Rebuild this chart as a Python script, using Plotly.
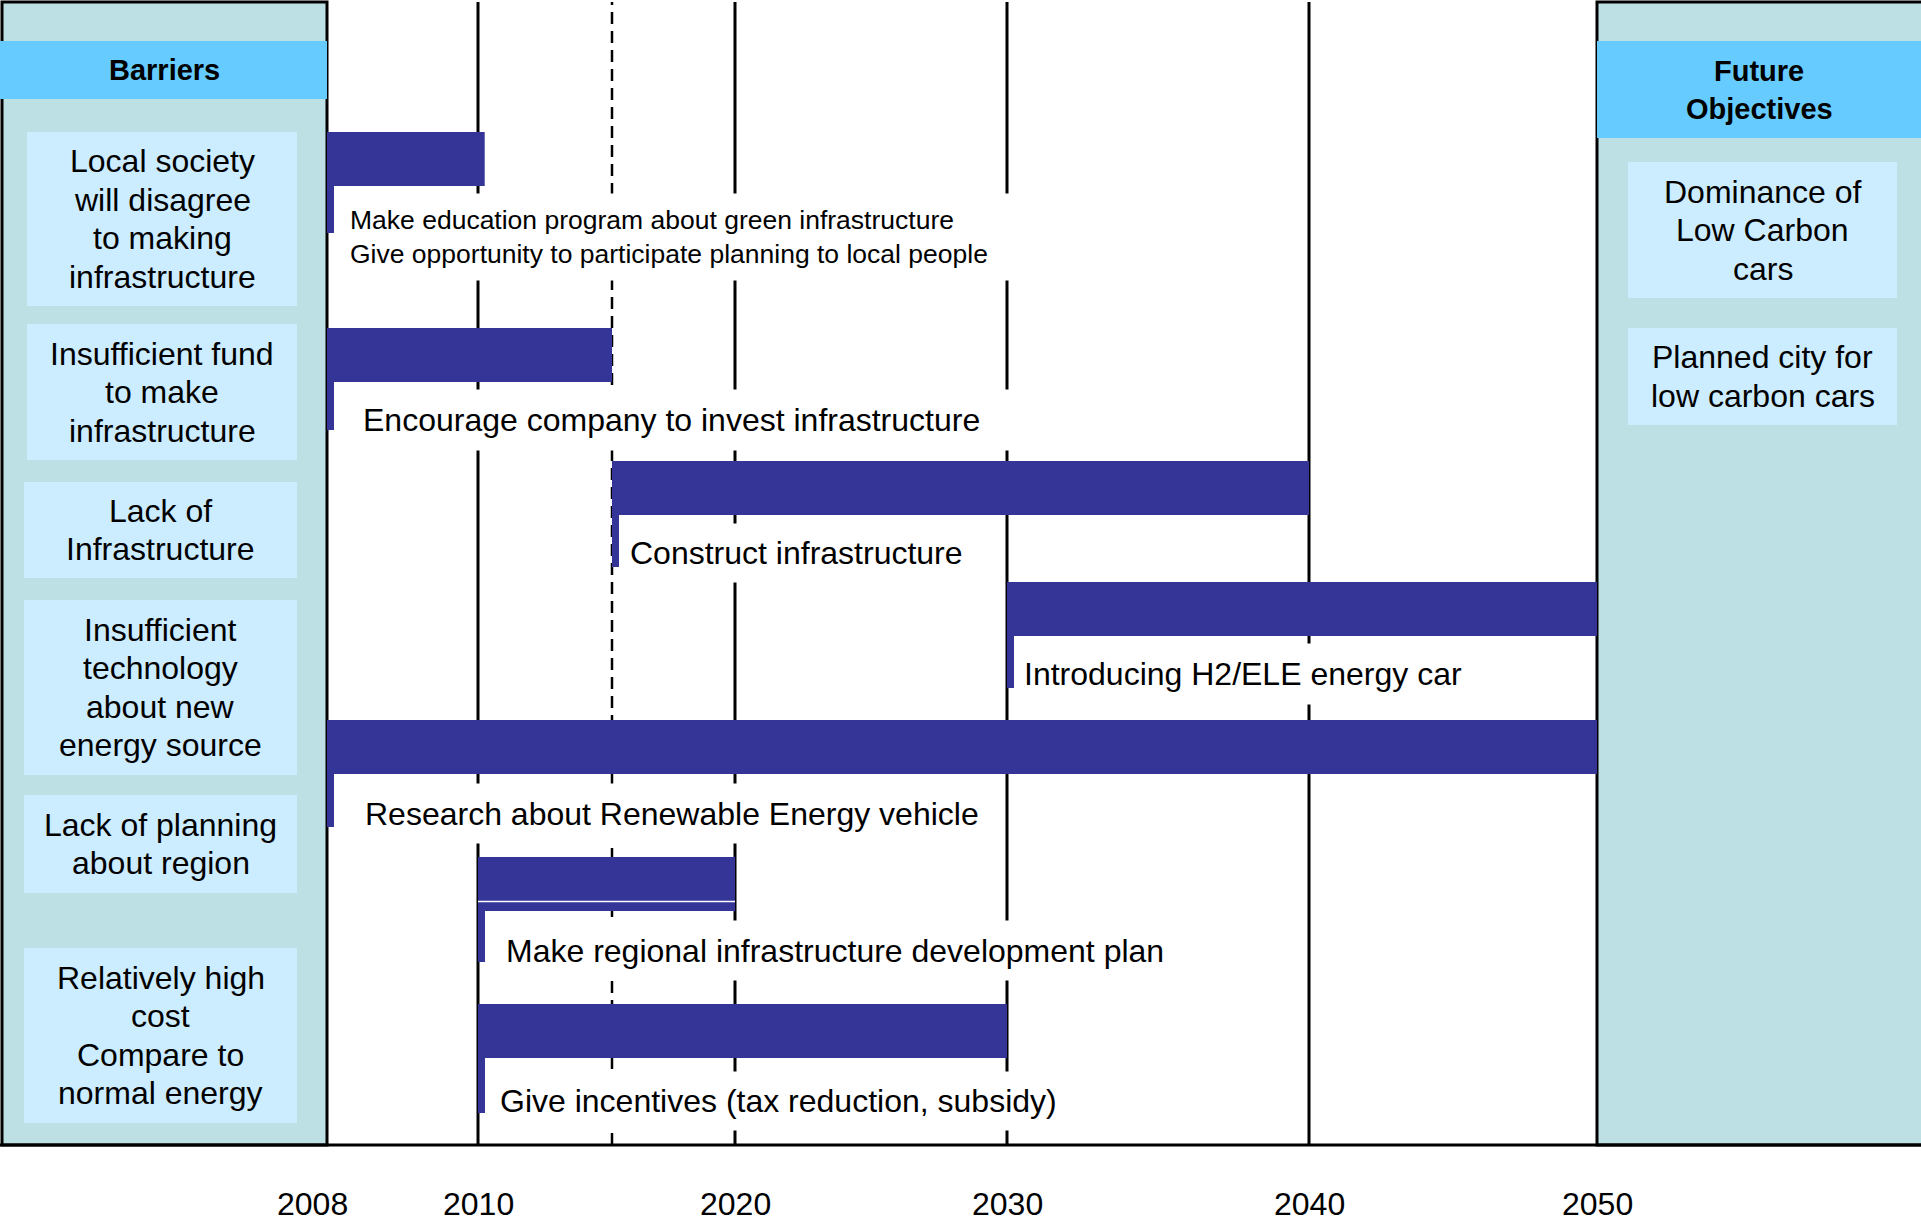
import plotly.graph_objects as go

# ---------------- data ----------------
barriers = [
    "Local society<br>will disagree<br>to making<br>infrastructure",
    "Insufficient fund<br>to make<br>infrastructure",
    "Lack of<br>Infrastructure",
    "Insufficient<br>technology<br>about new<br>energy source",
    "Lack of planning<br>about region",
    "Relatively high<br>cost<br>Compare to<br>normal energy",
]
objectives = [
    "Dominance of<br>Low Carbon<br>cars",
    "Planned city for<br>low carbon cars",
]
actions = [
    "Make education program about green infrastructure<br>Give opportunity to participate planning to local people",
    "Encourage company to invest infrastructure",
    "Construct infrastructure",
    "Introducing H2/ELE energy car",
    "Research about Renewable Energy vehicle",
    "Make regional infrastructure development plan",
    "Give incentives (tax reduction, subsidy)",
]
action_start = [2008, 2008, 2015, 2030, 2008, 2010, 2010]
action_end = [2010.25, 2015, 2040, 2050, 2050, 2020, 2030]
tick_years = [2008, 2010, 2020, 2030, 2040, 2050]
milestone_years = [2008, 2010, 2015, 2020, 2030, 2040, 2050]
dashed_years = [2015]

# ---------------- layout constants (pixels) ----------------
FIG_W, FIG_H = 1921, 1222
FONT = "Liberation Sans, Arial, sans-serif"
BAR_COLOR = "#353597"
TEAL = "#BCE0E3"
HEAD = "#66CCFF"
BOX = "#CCECFF"

# schematic (non-uniform) time axis: pixel position of each milestone year
milestone_px = [327, 478, 612, 735, 1007, 1309, 1597]
TOP = 2
AXIS_BOTTOM = 1145
TICK_Y = 1204

row_center = [159, 355, 488, 609, 747, 884, 1031]
BAR_H = 54
stub_bottom = [233, 430, 567, 688, 827, 962, 1113]
STUB_W = 7
label_dx = [22, 35, 17, 16, 37, 27, 21]
label_cy = [237, 420, 553, 674, 813, 950, 1101]
label_box_w = [671, 650, 365, 452, 631, 671, 567]
label_box_h = [86, 60, 58, 60, 59, 59, 58]
label_size = [26.5, 32, 32, 32, 32, 32, 32]
bar_split = {5: 901.5}

barrier_box = [(27, 132, 297, 306), (27, 324, 297, 460), (24, 482, 297, 578),
               (24, 600, 297, 775), (24, 795, 297, 893), (24, 948, 297, 1123)]
objective_box = [(1628, 162, 1897, 298), (1628, 328, 1897, 425)]
BOX_LINE = 38.5
BOX_FONT = 32


def px(x):
    return x / FIG_W


def py(y):
    return 1 - y / FIG_H


nseg = len(milestone_years) - 1


def axis_name(i):
    return "x" if i == 0 else f"x{i + 1}"


def layout_key(i):
    return "xaxis" if i == 0 else f"xaxis{i + 1}"


def seg_index(year):
    for i in range(nseg):
        if milestone_years[i] <= year < milestone_years[i + 1]:
            return i
    return nseg - 1


def text_at(x, y, text, size, bold=False):
    fig.add_annotation(xref="paper", yref="paper", x=px(x), y=py(y),
                       xanchor="center", yanchor="middle",
                       text=f"<b>{text}</b>" if bold else text, showarrow=False,
                       font=dict(size=size, color="black", family=FONT))


fig = go.Figure()

# ---------------- bars (split across schematic axis segments) ----------------
for k in range(len(actions)):
    s, e = action_start[k], action_end[k]
    for i in range(nseg):
        a, b = milestone_years[i], milestone_years[i + 1]
        lo, hi = max(s, a), min(e, b)
        if hi > lo:
            fig.add_trace(go.Bar(
                orientation="h", y=[row_center[k]], x=[hi - lo], base=[lo],
                width=[BAR_H], marker=dict(color=BAR_COLOR, line=dict(width=0)),
                xaxis=axis_name(i), yaxis="y", showlegend=False, hoverinfo="skip",
            ))
            if k in bar_split:
                fig.add_shape(type="line", xref=axis_name(i), yref="y",
                              x0=lo, x1=hi, y0=bar_split[k], y1=bar_split[k],
                              line=dict(color="white", width=1.5), layer="above")

# ---------------- side panels ----------------
fig.add_shape(type="rect", xref="paper", yref="paper",
              x0=px(2), x1=px(milestone_px[0]), y0=py(AXIS_BOTTOM), y1=py(TOP),
              fillcolor=TEAL, line=dict(color="black", width=3), layer="below")
fig.add_shape(type="rect", xref="paper", yref="paper",
              x0=px(milestone_px[-1]), x1=px(FIG_W + 10), y0=py(AXIS_BOTTOM), y1=py(TOP),
              fillcolor=TEAL, line=dict(color="black", width=3), layer="below")
fig.add_shape(type="rect", xref="paper", yref="paper",
              x0=px(0), x1=px(milestone_px[0]), y0=py(99), y1=py(41),
              fillcolor=HEAD, line=dict(width=0), layer="below")
fig.add_shape(type="rect", xref="paper", yref="paper",
              x0=px(milestone_px[-1]), x1=px(FIG_W), y0=py(138), y1=py(41),
              fillcolor=HEAD, line=dict(width=0), layer="below")

text_at(164, 70, "Barriers", 29, bold=True)
for j, line in enumerate(["Future", "Objectives"]):
    text_at(1759, 71 + j * 38, line, 29, bold=True)


def boxed_text(box, text):
    x0, y0, x1, y1 = box
    fig.add_shape(type="rect", xref="paper", yref="paper",
                  x0=px(x0), x1=px(x1), y0=py(y1), y1=py(y0),
                  fillcolor=BOX, line=dict(width=0), layer="below")
    lines = text.split("<br>")
    cy = (y0 + y1) / 2
    cx = (x0 + x1) / 2
    n = len(lines)
    for j, line in enumerate(lines):
        text_at(cx, cy + (j - (n - 1) / 2) * BOX_LINE, line, BOX_FONT)


for box, t in zip(barrier_box, barriers):
    boxed_text(box, t)
for box, t in zip(objective_box, objectives):
    boxed_text(box, t)

# ---------------- vertical milestone lines ----------------
for yr in milestone_years[1:-1]:
    i = seg_index(yr)
    a, b = milestone_years[i], milestone_years[i + 1]
    frac = (yr - a) / (b - a)
    dashed = yr in dashed_years
    fig.add_shape(type="line", xref=f"{axis_name(i)} domain", yref="y domain",
                  x0=frac, x1=frac, y0=py(AXIS_BOTTOM), y1=py(TOP),
                  line=dict(color="black", width=2.5 if dashed else 3,
                            dash="12px,7px" if dashed else "solid"),
                  layer="below")

# bottom axis line
fig.add_shape(type="line", xref="paper", yref="paper", x0=0, x1=1,
              y0=py(AXIS_BOTTOM), y1=py(AXIS_BOTTOM),
              line=dict(color="black", width=3), layer="below")

# ---------------- bracket stubs & action labels ----------------
for k in range(len(actions)):
    s = action_start[k]
    i = seg_index(s)
    fig.add_shape(type="rect", xref=axis_name(i), yref="y", xsizemode="pixel", xanchor=s,
                  x0=0, x1=STUB_W, y0=row_center[k] + BAR_H / 2, y1=stub_bottom[k],
                  fillcolor=BAR_COLOR, line=dict(width=0), layer="above")
    fig.add_annotation(xref=axis_name(i), x=s, xanchor="left", xshift=label_dx[k],
                       yref="y", y=label_cy[k], yanchor="middle",
                       text=actions[k], showarrow=False, align="left", valign="middle",
                       width=label_box_w[k], height=label_box_h[k], bgcolor="white",
                       borderpad=0,
                       font=dict(size=label_size[k], color="black", family=FONT))

# ---------------- year tick labels ----------------
for yr in tick_years:
    i = seg_index(yr)
    fig.add_annotation(xref=axis_name(i), x=yr, yref="y", y=TICK_Y, text=str(yr),
                       xanchor="center", yanchor="middle",
                       showarrow=False, xshift=(-15 if yr == tick_years[0] else 0),
                       font=dict(size=32, color="black", family=FONT))

# ---------------- axes ----------------
axes = {}
for i in range(nseg):
    axes[layout_key(i)] = dict(
        domain=[px(milestone_px[i]), px(milestone_px[i + 1])],
        range=[milestone_years[i], milestone_years[i + 1]],
        visible=False, fixedrange=True, anchor="y",
    )

fig.update_layout(
    width=FIG_W, height=FIG_H,
    margin=dict(l=0, r=0, t=0, b=0),
    paper_bgcolor="white", plot_bgcolor="rgba(0,0,0,0)",
    barmode="overlay", showlegend=False,
    yaxis=dict(domain=[0, 1], range=[FIG_H, 0], visible=False, fixedrange=True, anchor="x"),
    **axes,
)

fig.write_html("out.html")
